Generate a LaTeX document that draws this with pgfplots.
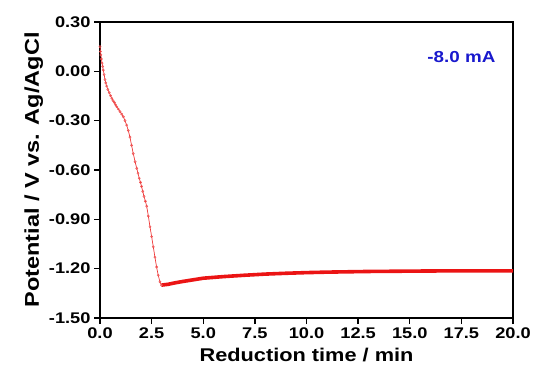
\documentclass[border=0pt]{standalone}
\usepackage{pgfplots}
\pgfplotsset{compat=1.18}
\usepackage{fontspec}
\setmainfont{Liberation Sans}[FakeStretch=1.18]
\definecolor{curvered}{RGB}{235,20,20}
\definecolor{annblue}{RGB}{25,25,205}
\begin{document}
\begin{tikzpicture}[x=1bp,y=1bp]
\path (0,0) rectangle (536,379);
\begin{axis}[
  at={(100bp,61bp)}, anchor=south west,
  scale only axis, width=413bp, height=296bp,
  xmin=0, xmax=20, ymin=-1.5, ymax=0.3,
  xtick={0,2.5,...,20}, ytick={-1.5,-1.2,-0.9,-0.6,-0.3,0,0.3},
  xticklabel style={/pgf/number format/.cd, fixed, fixed zerofill, precision=1},
  yticklabel style={/pgf/number format/.cd, fixed, fixed zerofill, precision=2},
  /pgf/number format/assume math mode=true,
  tick label style={font=\fontsize{15.5}{17}\selectfont\bfseries},
  xlabel style={font=\fontsize{18.5}{20}\selectfont\bfseries, yshift=-3bp},
  ylabel style={font=\fontsize{20}{22}\selectfont\bfseries, yshift=-1bp},
  xlabel={Reduction time / min},
  ylabel={Potential / V vs. Ag/AgCl},
  tick align=outside, xtick pos=bottom, ytick pos=left,
  major tick length=6bp,
  axis line style={line width=1.8bp},
  every tick/.style={line width=1.3bp, black},
  clip=false,
]
\addplot[curvered!85!white, line width=0.7bp, mark=o, mark size=1.1bp, mark options={line width=0.5bp, curvered!75!white}] coordinates {
(0.00,0.15) (0.02,0.12) (0.04,0.10) (0.07,0.075) (0.10,0.05) (0.13,0.03) (0.16,0.008) (0.20,-0.02)
(0.24,-0.05) (0.28,-0.07) (0.32,-0.09) (0.38,-0.11) (0.45,-0.13) (0.51,-0.148) (0.57,-0.164) (0.63,-0.178)
(0.70,-0.19) (0.75,-0.203) (0.81,-0.215) (0.89,-0.23) (0.97,-0.245) (1.05,-0.26) (1.13,-0.276) (1.21,-0.30)
(1.29,-0.327) (1.37,-0.36) (1.45,-0.40) (1.53,-0.45) (1.61,-0.50) (1.70,-0.55) (1.78,-0.59) (1.84,-0.62)
(1.90,-0.65) (1.96,-0.675) (2.01,-0.70) (2.07,-0.73) (2.13,-0.76) (2.20,-0.79) (2.26,-0.82) (2.34,-0.88)
(2.42,-0.945) (2.50,-1.005) (2.58,-1.067) (2.66,-1.13) (2.74,-1.19) (2.82,-1.24) (2.90,-1.28) (2.98,-1.30)
};
\addplot[curvered, line width=3.6bp] coordinates {
(2.98,-1.30) (3.3,-1.295) (3.6,-1.287) (4.0,-1.278) (4.5,-1.268) (5.0,-1.258) (6.0,-1.248)
(7.0,-1.240) (8.0,-1.233) (9.0,-1.228) (10.0,-1.224) (11.0,-1.221) (12.0,-1.219) (13.0,-1.217)
(14.0,-1.216) (15.0,-1.215) (16.0,-1.214) (18.0,-1.213) (20.0,-1.213)
};
\node[font=\fontsize{16}{18}\selectfont\bfseries, text=annblue] at (axis cs:17.5,0.087) {-8.0 mA};
\end{axis}
\end{tikzpicture}
\end{document}
